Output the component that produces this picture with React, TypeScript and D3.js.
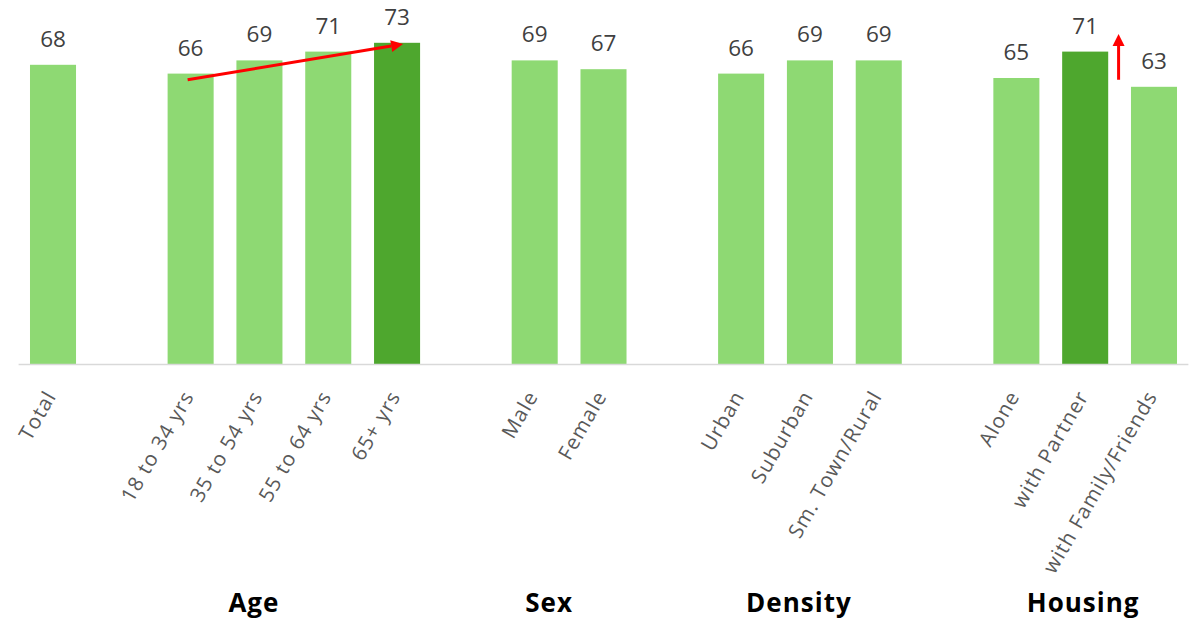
import React from "react";
import * as d3 from "d3";

// Category groups in display order
const groupNames = ["", "Age", "Sex", "Density", "Housing"];
const totalCats = ["Total"];
const ageCats = ["18 to 34 yrs", "35 to 54 yrs", "55 to 64 yrs", "65+ yrs"];
const sexCats = ["Male", "Female"];
const densityCats = ["Urban", "Suburban", "Sm. Town/Rural"];
const housingCats = ["Alone", "with Partner", "with Family/Friends"];

// Scores per category
const totalVals = [68];
const ageVals = [66, 69, 71, 73];
const sexVals = [69, 67];
const densityVals = [66, 69, 69];
const housingVals = [65, 71, 63];

// Highlighted (dark) bars
const highlighted = ["65+ yrs", "with Partner"];

// Group title positions, in band-slot units (0 = first slot centre)
const groupTitleSlots = [0, 2.92, 7.21, 10.84, 14.97];

const W = 1192;
const H = 621;

export default function App() {
  const groups = [
    { cats: totalCats, vals: totalVals },
    { cats: ageCats, vals: ageVals },
    { cats: sexCats, vals: sexVals },
    { cats: densityCats, vals: densityVals },
    { cats: housingCats, vals: housingVals },
  ];

  const domain: string[] = [];
  const data: { cat: string; val: number }[] = [];
  groups.forEach((g, gi) => {
    if (gi > 0) domain.push(`__gap${gi}`);
    g.cats.forEach((c, i) => {
      domain.push(c);
      data.push({ cat: c, val: g.vals[i] });
    });
  });

  const x0 = 18.6;
  const x1 = 1188.4;
  const x = d3
    .scaleBand<string>()
    .domain(domain)
    .range([x0, x1])
    .paddingInner(0.331)
    .paddingOuter(0.1655);
  const slot = d3.scaleLinear().domain([0, 1]).range([x0 + x.step() / 2, x0 + x.step() * 1.5]);

  const baseY = 364;
  const y = d3.scaleLinear().domain([0, 80]).range([baseY, 12]);

  const cx = (c: string) => (x(c) as number) + x.bandwidth() / 2;

  // Trend arrows: start/end in data terms
  const arrow1 = {
    x1: cx("18 to 34 yrs") - 3,
    y1: y(64.6),
    x2: cx("65+ yrs") + 6,
    y2: y(72.7),
  };
  const gapMid = ((x("with Partner") as number) + x.bandwidth() + (x("with Family/Friends") as number)) / 2;
  const arrow2 = { x1: gapMid - 1, y1: y(64.6), x2: gapMid - 1, y2: y(75.0) };

  const arrowPath = (a: { x1: number; y1: number; x2: number; y2: number }) => {
    const ang = Math.atan2(a.y2 - a.y1, a.x2 - a.x1);
    const len = 12;
    const half = 6;
    const bx = a.x2 - len * Math.cos(ang);
    const by = a.y2 - len * Math.sin(ang);
    const px = -Math.sin(ang) * half;
    const py = Math.cos(ang) * half;
    return {
      line: { x1: a.x1, y1: a.y1, x2: bx, y2: by },
      head: `M${a.x2},${a.y2}L${bx + px},${by + py}L${bx - px},${by - py}Z`,
    };
  };
  const a1 = arrowPath(arrow1);
  const a2 = arrowPath(arrow2);

  const font = "'Open Sans', 'Noto Sans', Arial, sans-serif";

  return (
    <svg width={W} height={H} style={{ display: "block", position: "absolute", left: 0, top: 0 }}>
      <rect width={W} height={H} fill="#ffffff" />
      {data.map((d) => (
        <rect
          key={d.cat}
          x={x(d.cat)}
          y={y(d.val)}
          width={x.bandwidth()}
          height={baseY - y(d.val)}
          fill={highlighted.includes(d.cat) ? "#4EA72E" : "#8ED973"}
        />
      ))}
      <line x1={x0} x2={x1} y1={baseY + 0.5} y2={baseY + 0.5} stroke="#D9D9D9" strokeWidth={1.5} />
      {data.map((d) => (
        <text
          key={"v" + d.cat}
          x={cx(d.cat)}
          y={y(d.val) - 18}
          textAnchor="middle"
          fontFamily={font}
          fontSize={22.5}
          fill="#404040"
        >
          {d.val}
        </text>
      ))}
      {data.map((d) => (
        <text
          key={"c" + d.cat}
          transform={`translate(${cx(d.cat) + 4},${baseY + 32}) rotate(-60)`}
          textAnchor="end"
          fontFamily={font}
          fontSize={20.5}
          letterSpacing={1.1}
          fill="#595959"
        >
          {d.cat}
        </text>
      ))}
      {groupNames.map((g, i) =>
        g ? (
          <text
            key={"g" + g}
            x={slot(groupTitleSlots[i])}
            y={612}
            textAnchor="middle"
            fontFamily={font}
            fontWeight="bold"
            fontSize={26}
            letterSpacing={1}
            fill="#000000"
          >
            {g}
          </text>
        ) : null
      )}
      <line {...a1.line} stroke="#FF0000" strokeWidth={3} />
      <path d={a1.head} fill="#FF0000" />
      <line {...a2.line} stroke="#FF0000" strokeWidth={3} />
      <path d={a2.head} fill="#FF0000" />
    </svg>
  );
}
